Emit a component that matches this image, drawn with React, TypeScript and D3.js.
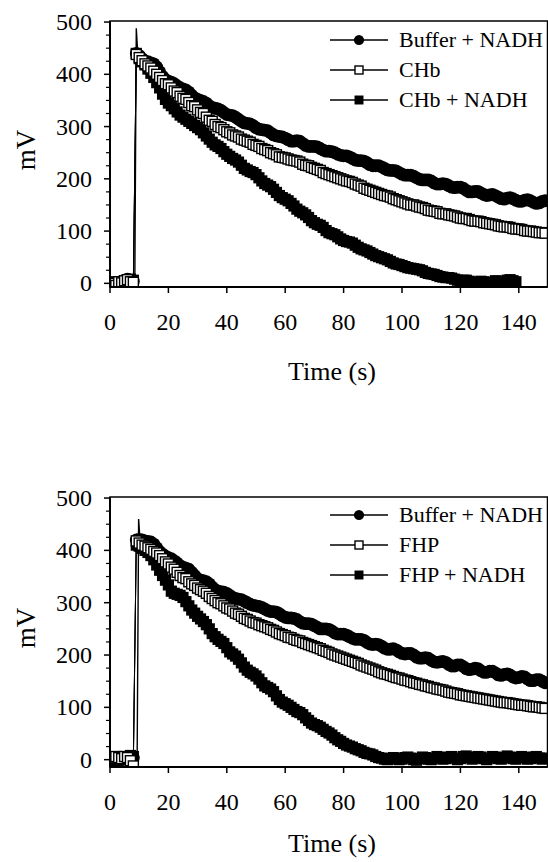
import React from "react";
import * as d3 from "d3";

// one reading per second, t = index (s)
const secondsPerSample = 1;

const xTicks = [0, 20, 40, 60, 80, 100, 120, 140];
const yTicks = [0, 100, 200, 300, 400, 500];
const yMinorTicks = [25, 50, 75, 125, 150, 175, 225, 250, 275, 325, 350, 375, 425, 450, 475];

const topLabels = ["Buffer + NADH", "CHb", "CHb + NADH"];
const bottomLabels = ["Buffer + NADH", "FHP", "FHP + NADH"];

// top panel
const topBuffer = [0, -3, 2, 0, 4, 6, 8, 6, 4,
  440, 436, 430, 425, 424, 422, 420, 414, 405, 396,
  390, 387, 385, 382, 378, 374, 372, 370, 366, 360,
  355, 352, 350, 348, 345, 340, 336, 335, 334, 331,
  327, 323, 322, 321, 318, 314, 310, 307, 306, 305,
  302, 298, 295, 294, 293, 292, 288, 284, 282, 281,
  280, 278, 275, 272, 272, 273, 272, 268, 264, 262,
  262, 262, 261, 258, 255, 253, 253, 252, 250, 247,
  245, 244, 244, 242, 239, 236, 235, 235, 234, 231,
  227, 225, 225, 225, 223, 220, 217, 216, 216, 215,
  212, 209, 207, 207, 207, 205, 202, 199, 198, 198,
  198, 196, 192, 190, 190, 191, 190, 187, 184, 183,
  184, 184, 182, 178, 175, 175, 176, 176, 173, 170,
  168, 169, 170, 168, 165, 162, 161, 163, 164, 162,
  159, 157, 157, 159, 160, 158, 155, 153, 154, 157, 158];
const topCHb = [2, 0, -4, 3, 1, 5, 7, 3, 2,
  438, 432, 426, 420, 416, 412, 406, 400, 394, 388,
  382, 380, 374, 368, 365, 358, 354, 352, 346, 340,
  338, 332, 327, 325, 318, 312, 310, 304, 300, 298,
  294, 290, 288, 284, 282, 280, 276, 274, 272, 270,
  266, 264, 262, 258, 256, 254, 250, 248, 246, 242,
  241, 240, 238, 236, 235, 234, 232, 228, 226, 225,
  222, 220, 218, 216, 212, 210, 208, 206, 204, 202,
  200, 198, 196, 195, 193, 190, 188, 186, 182, 180,
  178, 176, 174, 172, 170, 168, 167, 165, 162, 160,
  158, 156, 154, 152, 150, 150, 148, 146, 145, 143,
  140, 139, 138, 137, 134, 133, 133, 131, 130, 129,
  127, 125, 124, 124, 122, 120, 119, 119, 118, 116,
  115, 114, 113, 112, 110, 109, 108, 108, 107, 105,
  104, 104, 103, 101, 100, 100, 99, 98, 97, 97, 96];
const topCHbNADH = [-2, 3, 0, -3, 2, 4, 5, 8, 6,
  440, 430, 424, 418, 410, 402, 394, 384, 374, 362,
  352, 345, 340, 334, 328, 322, 318, 314, 310, 306,
  302, 298, 294, 288, 282, 276, 270, 265, 262, 258,
  252, 247, 243, 239, 236, 232, 226, 220, 217, 214,
  212, 208, 202, 196, 191, 188, 185, 180, 174, 168,
  164, 161, 158, 153, 148, 142, 138, 135, 131, 126,
  120, 116, 113, 111, 107, 101, 97, 95, 93, 89,
  85, 82, 80, 79, 77, 73, 69, 66, 64, 62,
  59, 56, 53, 51, 49, 47, 45, 42, 39, 37,
  36, 34, 32, 30, 29, 28, 27, 26, 24, 21,
  19, 18, 17, 15, 13, 12, 11, 11, 10, 8,
  6, 5, 6, 6, 4, 2, 1, 2, 4, 3,
  1, 0, 2, 5, 4, 2, 3, 6, 7, 5, 3];
const topSpike = [[8.5, 4], [9.0, 488], [9.5, 440]];

// bottom panel
const bottomBuffer = [0, 2, -2, 3, 0, 4, 2, 5, 3,
  420, 421, 420, 418, 417, 416, 412, 405, 398, 393,
  389, 386, 384, 380, 376, 371, 368, 366, 364, 358,
  352, 346, 343, 342, 340, 336, 330, 325, 322, 321,
  320, 318, 314, 310, 308, 307, 306, 303, 300, 297,
  295, 294, 293, 291, 288, 285, 283, 283, 282, 279,
  275, 272, 271, 271, 270, 268, 264, 261, 260, 260,
  259, 256, 253, 250, 250, 250, 249, 246, 242, 240,
  240, 240, 238, 235, 232, 230, 230, 230, 228, 224,
  221, 220, 221, 220, 217, 213, 211, 211, 212, 210,
  206, 203, 202, 203, 203, 200, 196, 194, 194, 195,
  194, 190, 187, 186, 187, 188, 186, 182, 179, 179,
  181, 181, 178, 174, 172, 173, 175, 174, 170, 167,
  167, 169, 169, 166, 162, 161, 163, 164, 162, 158,
  156, 157, 159, 158, 154, 151, 151, 153, 153, 150, 147];
const bottomFHP = [3, 5, 6, 4, 2, 6, 4, -2, -12,
  418, 414, 410, 408, 405, 402, 398, 395, 390, 384,
  378, 374, 368, 364, 358, 352, 348, 346, 340, 336,
  333, 328, 325, 322, 318, 312, 308, 304, 300, 298,
  294, 290, 288, 284, 280, 278, 274, 270, 268, 265,
  262, 261, 258, 256, 254, 252, 249, 247, 244, 241,
  239, 237, 234, 233, 230, 228, 227, 224, 222, 220,
  218, 216, 214, 212, 209, 207, 205, 202, 200, 198,
  196, 194, 192, 190, 188, 186, 184, 181, 179, 177,
  175, 173, 171, 168, 166, 164, 163, 161, 159, 157,
  156, 154, 152, 151, 149, 147, 146, 144, 143, 141,
  140, 138, 137, 135, 134, 133, 131, 129, 128, 127,
  126, 124, 123, 122, 121, 120, 119, 118, 117, 116,
  115, 114, 113, 112, 111, 110, 109, 109, 108, 107,
  106, 105, 104, 104, 103, 102, 101, 101, 100, 99, 98];
const bottomFHPNADH = [-3, 2, 0, 4, 3, 0, 5, 8, 6,
  410, 408, 404, 400, 396, 390, 382, 372, 362, 352,
  343, 334, 322, 318, 316, 314, 310, 302, 294, 286,
  280, 274, 269, 264, 258, 250, 241, 235, 230, 226,
  222, 214, 206, 202, 198, 192, 185, 177, 171, 167,
  164, 160, 154, 147, 141, 138, 135, 130, 122, 115,
  110, 107, 104, 100, 96, 92, 90, 86, 80, 75,
  70, 67, 65, 62, 58, 54, 51, 47, 42, 38,
  35, 31, 28, 26, 24, 21, 19, 17, 14, 12,
  11, 9, 6, 4, 3, 1, 0, 2, 4, 2,
  0, 1, 4, 5, 3, 0, -1, 2, 5, 4,
  1, 0, 3, 6, 4, 1, 2, 5, 6, 3,
  0, 2, 6, 7, 4, 1, 3, 6, 5, 2,
  0, 3, 6, 5, 2, 1, 4, 7, 5, 2,
  1, 4, 6, 4, 1, 2, 5, 6, 3, 1, 3];
const bottomSpike = [[9.3, 6], [9.8, 460], [10.3, 418]];

const font = "'Liberation Serif', 'Times New Roman', serif";
const W = 548;
const H = 862;
const left = 110;
const right = 547.5;

type Kind = "circle" | "open" | "square";

function Marker({ kind, x, y, s = 1 }: { kind: Kind; x: number; y: number; s?: number }) {
  if (kind === "circle") return <circle cx={x} cy={y} r={6.4 * s} fill="#000" />;
  if (kind === "open") {
    const h = 5 * s;
    return <rect x={x - h} y={y - h} width={2 * h} height={2 * h} fill="#fff" stroke="#000" strokeWidth={1.4} />;
  }
  const h = 5.6 * s;
  return <rect x={x - h} y={y - h} width={2 * h} height={2 * h} fill="#000" />;
}

function Panel({ top, bottom, yMin, yMax, series, labels, spike, legendTop, titleY }: {
  top: number; bottom: number; yMin: number; yMax: number;
  series: number[][]; labels: string[]; spike: number[][]; legendTop: number; titleY: number;
}) {
  const x = d3.scaleLinear().domain([0, 150]).range([left, 548]);
  const y = d3.scaleLinear().domain([yMin, yMax]).range([bottom, top]);
  const line = d3.line<number>().x((_, i) => x(i * secondsPerSample)).y((d) => y(d));
  const spikeLine = d3.line<number[]>().x((d) => x(d[0])).y((d) => y(d[1]));
  const kinds: Kind[] = ["circle", "open", "square"];
  const order = [0, 2, 1];
  return (
    <g>
      <defs>
        <clipPath id={`clip${top}`}>
          <rect x={left} y={top} width={right - left} height={bottom - top} />
        </clipPath>
      </defs>
      <g clipPath={`url(#clip${top})`}>
        {order.map((s) => (
          <path key={`l${s}`} d={line(series[s]) || ""} fill="none" stroke="#000" strokeWidth={1} />
        ))}
        <path d={spikeLine(spike) || ""} fill="none" stroke="#000" strokeWidth={1.4} />
        {order.map((s) => (
          <g key={`m${s}`}>
            {series[s].map((v, i) => (
              <Marker key={i} kind={kinds[s]} x={x(i * secondsPerSample)} y={y(v)} />
            ))}
          </g>
        ))}
      </g>
      <rect x={left} y={top} width={right - left} height={bottom - top} fill="none" stroke="#000" strokeWidth={1.5} />
      <line x1={left} x2={left} y1={top} y2={bottom} stroke="#000" strokeWidth={2} />
      <line x1={left} x2={right} y1={bottom} y2={bottom} stroke="#000" strokeWidth={2} />
      {yTicks.map((t) => (
        <g key={`y${t}`}>
          <line x1={left - 6} x2={left} y1={y(t)} y2={y(t)} stroke="#000" strokeWidth={1.5} />
          <text x={92} y={y(t) + 8} textAnchor="end" fontSize={24} fontFamily={font}>{t}</text>
        </g>
      ))}
      {yMinorTicks.map((t) => (
        <line key={`ym${t}`} x1={left - 4} x2={left} y1={y(t)} y2={y(t)} stroke="#000" strokeWidth={1.2} />
      ))}
      {xTicks.map((t) => (
        <g key={`x${t}`}>
          <line x1={x(t)} x2={x(t)} y1={bottom} y2={bottom + 6} stroke="#000" strokeWidth={1.5} />
          <text x={x(t)} y={bottom + 43} textAnchor="middle" fontSize={24} fontFamily={font}>{t}</text>
        </g>
      ))}
      <text transform={`translate(35, ${(top + bottom) / 2 - 4}) rotate(-90)`} textAnchor="middle" fontSize={27} fontFamily={font}>mV</text>
      <text x={332} y={titleY} textAnchor="middle" fontSize={26} fontFamily={font}>Time (s)</text>
      {labels.map((lab, i) => {
        const ly = legendTop + i * 30;
        return (
          <g key={lab}>
            <line x1={330} x2={388} y1={ly} y2={ly} stroke="#000" strokeWidth={1.5} />
            <Marker kind={kinds[i]} x={359} y={ly} s={0.8} />
            <text x={399} y={ly + 7} fontSize={22} fontFamily={font}>{lab}</text>
          </g>
        );
      })}
    </g>
  );
}

export default function App() {
  return (
    <svg width={W} height={H} style={{ position: "absolute", left: 0, top: 0, background: "#fff" }}>
      <Panel top={21} bottom={287} yMin={-7} yMax={502}
        series={[topBuffer, topCHb, topCHbNADH]} labels={topLabels} spike={topSpike}
        legendTop={40} titleY={380} />
      <Panel top={497} bottom={767} yMin={-14} yMax={502}
        series={[bottomBuffer, bottomFHP, bottomFHPNADH]} labels={bottomLabels} spike={bottomSpike}
        legendTop={515} titleY={852} />
    </svg>
  );
}
